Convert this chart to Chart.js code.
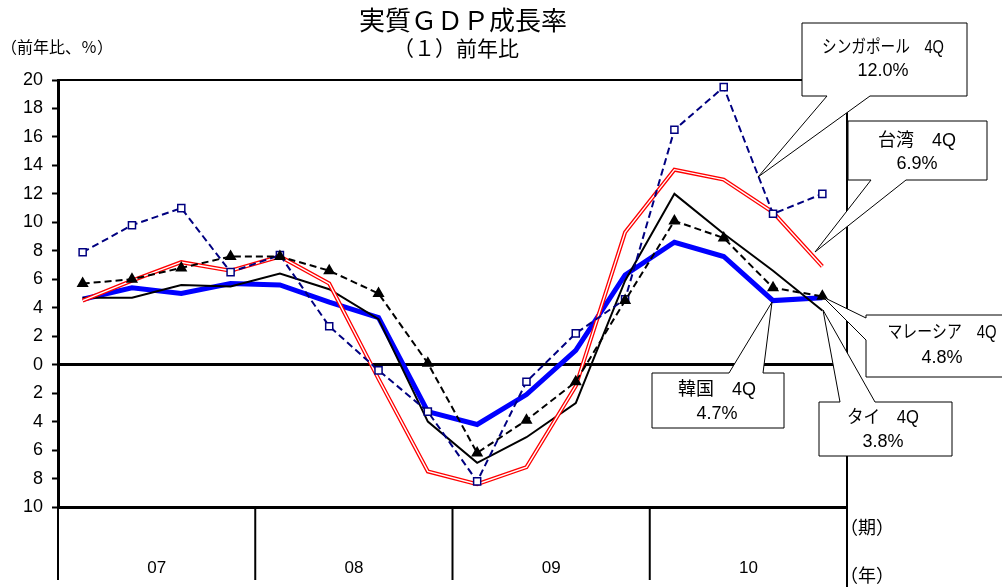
<!DOCTYPE html>
<html lang="ja">
<head>
<meta charset="utf-8">
<title>実質GDP成長率</title>
<script src="https://cdn.jsdelivr.net/npm/chart.js@4.4.1/dist/chart.umd.min.js"></script>
<style>
  html, body { margin: 0; padding: 0; background: #fff; }
  canvas { display: block; }
</style>
</head>
<body>
<canvas id="gdp" width="1002" height="587"></canvas>
<script>
const quarters = ['07Q1', '07Q2', '07Q3', '07Q4', '08Q1', '08Q2', '08Q3', '08Q4',
                  '09Q1', '09Q2', '09Q3', '09Q4', '10Q1', '10Q2', '10Q3', '10Q4'];
const years = ['07', '08', '09', '10'];

const singapore = [7.9, 9.8, 11.0, 6.5, 7.7, 2.7, -0.4, -3.3, -8.2, -1.2, 2.2, 4.6, 16.5, 19.5, 10.6, 12.0];
const taiwan    = [4.5, 5.9, 7.2, 6.6, 7.6, 5.7, -1.0, -7.5, -8.4, -7.2, -1.5, 9.3, 13.7, 13.0, 10.7, 6.9];
const korea     = [4.6, 5.4, 5.0, 5.7, 5.6, 4.4, 3.3, -3.3, -4.2, -2.1, 1.0, 6.3, 8.6, 7.6, 4.5, 4.7];
const thailand  = [4.7, 4.7, 5.6, 5.5, 6.4, 5.3, 3.2, -4.0, -6.9, -5.1, -2.7, 5.9, 12.0, 9.2, 6.6, 3.8];
const malaysia  = [5.7, 6.0, 6.8, 7.6, 7.6, 6.6, 5.0, 0.1, -6.2, -3.9, -1.2, 4.5, 10.1, 8.9, 5.4, 4.8];

// callout boxes: [x, y, w, h], wedge side, wedge base, tip, text centre and widths
const callouts = [
    { lines: ['シンガポール　4Q', '12.0%'], box: [802, 23, 165, 73], side: 'bottom', base: [827, 870], tip: [758, 177],
      cx: 883, ty: [48, 71], fit: 122 },
    { lines: ['台湾　4Q', '6.9%'], box: [848, 121, 139, 59], side: 'bottom', base: [871, 906], tip: [815, 252],
      cx: 917, ty: [141, 164], fit: 80 },
    { lines: ['マレーシア　4Q', '4.8%'], box: [866, 315, 145, 62], side: 'left', base: [318, 340], tip: [823, 297],
      cx: 942, ty: [333, 358], fit: 109 },
    { lines: ['韓国　4Q', '4.7%'], box: [652, 373, 132, 55], side: 'top', base: [729, 763], tip: [772, 302],
      cx: 717, ty: [390, 414], fit: 81 },
    { lines: ['タイ　4Q', '3.8%'], box: [819, 402, 133, 54], side: 'top', base: [840, 875], tip: [823, 310],
      cx: 883, ty: [418, 442], fit: 72 }
];

const latin = '"Liberation Sans", "Noto Sans CJK JP", sans-serif';
const jp = '"Noto Sans CJK JP", sans-serif';

function line(ctx, x1, y1, x2, y2) {
    ctx.beginPath();
    ctx.moveTo(x1, y1);
    ctx.lineTo(x2, y2);
    ctx.stroke();
}

function drawCallout(ctx, c) {
    const [x, y, w, h] = c.box;
    const [a, b] = c.base;
    ctx.beginPath();
    if (c.side === 'bottom') {
        ctx.moveTo(x, y); ctx.lineTo(x + w, y); ctx.lineTo(x + w, y + h);
        ctx.lineTo(b, y + h); ctx.lineTo(c.tip[0], c.tip[1]); ctx.lineTo(a, y + h);
        ctx.lineTo(x, y + h);
    } else if (c.side === 'top') {
        ctx.moveTo(x, y); ctx.lineTo(a, y); ctx.lineTo(c.tip[0], c.tip[1]); ctx.lineTo(b, y);
        ctx.lineTo(x + w, y); ctx.lineTo(x + w, y + h); ctx.lineTo(x, y + h);
    } else {
        ctx.moveTo(x, y); ctx.lineTo(x + w, y); ctx.lineTo(x + w, y + h); ctx.lineTo(x, y + h);
        ctx.lineTo(x, b); ctx.lineTo(c.tip[0], c.tip[1]); ctx.lineTo(x, a);
    }
    ctx.closePath();
    ctx.fillStyle = '#fff';
    ctx.fill();
    ctx.strokeStyle = '#000';
    ctx.lineWidth = 1;
    ctx.stroke();

    ctx.fillStyle = '#000';
    ctx.textAlign = 'center';
    ctx.textBaseline = 'middle';
    ctx.font = '18px ' + latin;
    ctx.fillText(c.lines[0], c.cx, c.ty[0], c.fit);
    ctx.fillText(c.lines[1], c.cx, c.ty[1]);
}

const decor = {
    id: 'decor',
    afterDraw(chart) {
        const ctx = chart.ctx;
        const area = chart.chartArea;
        const x = chart.scales.x;
        const rowBottom = 580;
        ctx.save();

        // frame: top and right
        ctx.strokeStyle = '#000';
        ctx.lineWidth = 2;
        line(ctx, area.left, area.top, area.right, area.top);
        line(ctx, area.right, area.top, area.right, rowBottom + 7);

        // year rows below the axis
        for (let i = 0; i <= years.length; i++) {
            let px;
            if (i === 0) px = area.left;
            else if (i === years.length) px = area.right;
            else px = (x.getPixelForValue(i * 4 - 1) + x.getPixelForValue(i * 4)) / 2;
            line(ctx, px, area.bottom, px, rowBottom);
        }
        ctx.fillStyle = '#000';
        ctx.textAlign = 'center';
        ctx.textBaseline = 'middle';
        ctx.font = '17px ' + latin;
        years.forEach((yr, i) => {
            const px = (x.getPixelForValue(i * 4) + x.getPixelForValue(i * 4 + 3)) / 2;
            ctx.fillText(yr, px, 568);
        });
        ctx.textAlign = 'left';
        ctx.font = '18px ' + jp;
        ctx.fillText('（期）', area.right - 7, 527);
        ctx.fillText('（年）', area.right - 7, 575);

        // titles
        ctx.textAlign = 'center';
        ctx.font = '26px ' + jp;
        ctx.fillText('実質ＧＤＰ成長率', 463, 20);
        ctx.font = '21px ' + jp;
        ctx.fillText('（１）前年比', 456, 48);
        ctx.textAlign = 'left';
        ctx.font = '16px ' + jp;
        ctx.fillText('（前年比、％）', 1, 47, 118);

        callouts.forEach(c => drawCallout(ctx, c));
        ctx.restore();
    }
};

new Chart(document.getElementById('gdp'), {
    type: 'line',
    data: {
        labels: quarters,
        datasets: [
            {
                label: 'マレーシア', data: malaysia,
                borderColor: '#000', borderWidth: 2, borderDash: [7, 4],
                pointStyle: 'triangle', pointRadius: 5,
                pointBackgroundColor: '#000', pointBorderColor: '#000'
            },
            {
                label: 'シンガポール', data: singapore,
                borderColor: '#000080', borderWidth: 2, borderDash: [7, 4],
                pointStyle: 'rect', pointRadius: 5, pointBorderWidth: 1.5,
                pointBackgroundColor: '#fff', pointBorderColor: '#000080'
            },
            {
                label: '台湾 inner', data: taiwan,
                borderColor: '#fff', borderWidth: 1.4, pointRadius: 0
            },
            {
                label: '台湾', data: taiwan,
                borderColor: '#ff0000', borderWidth: 4, pointRadius: 0
            },
            {
                label: 'タイ', data: thailand,
                borderColor: '#000', borderWidth: 2, pointRadius: 0
            },
            {
                label: '韓国', data: korea,
                borderColor: '#0000ff', borderWidth: 5, pointRadius: 0
            }
        ]
    },
    options: {
        responsive: false,
        animation: false,
        devicePixelRatio: 1,
        layout: { padding: { left: 0, top: 80, right: 155, bottom: 0 } },
        plugins: {
            legend: { display: false },
            tooltip: { enabled: false },
            title: { display: false }
        },
        scales: {
            x: {
                type: 'category',
                offset: true,
                grid: { display: false },
                ticks: { display: false },
                border: { display: true, color: '#000', width: 3 },
                afterFit: s => { s.height = 80; }
            },
            y: {
                min: -10,
                max: 20,
                ticks: {
                    stepSize: 2,
                    color: '#000',
                    padding: 9,
                    font: { family: latin, size: 18 },
                    callback: v => String(Math.abs(v))
                },
                grid: {
                    drawOnChartArea: true,
                    color: c => (c.tick && c.tick.value === 0) ? '#000' : 'rgba(0,0,0,0)',
                    lineWidth: c => (c.tick && c.tick.value === 0) ? 3 : 1,
                    tickColor: '#000',
                    tickWidth: 2,
                    tickLength: 6
                },
                border: { display: true, color: '#000', width: 3 },
                afterFit: s => { s.width = 58; }
            }
        }
    },
    plugins: [decor]
});
</script>
</body>
</html>
